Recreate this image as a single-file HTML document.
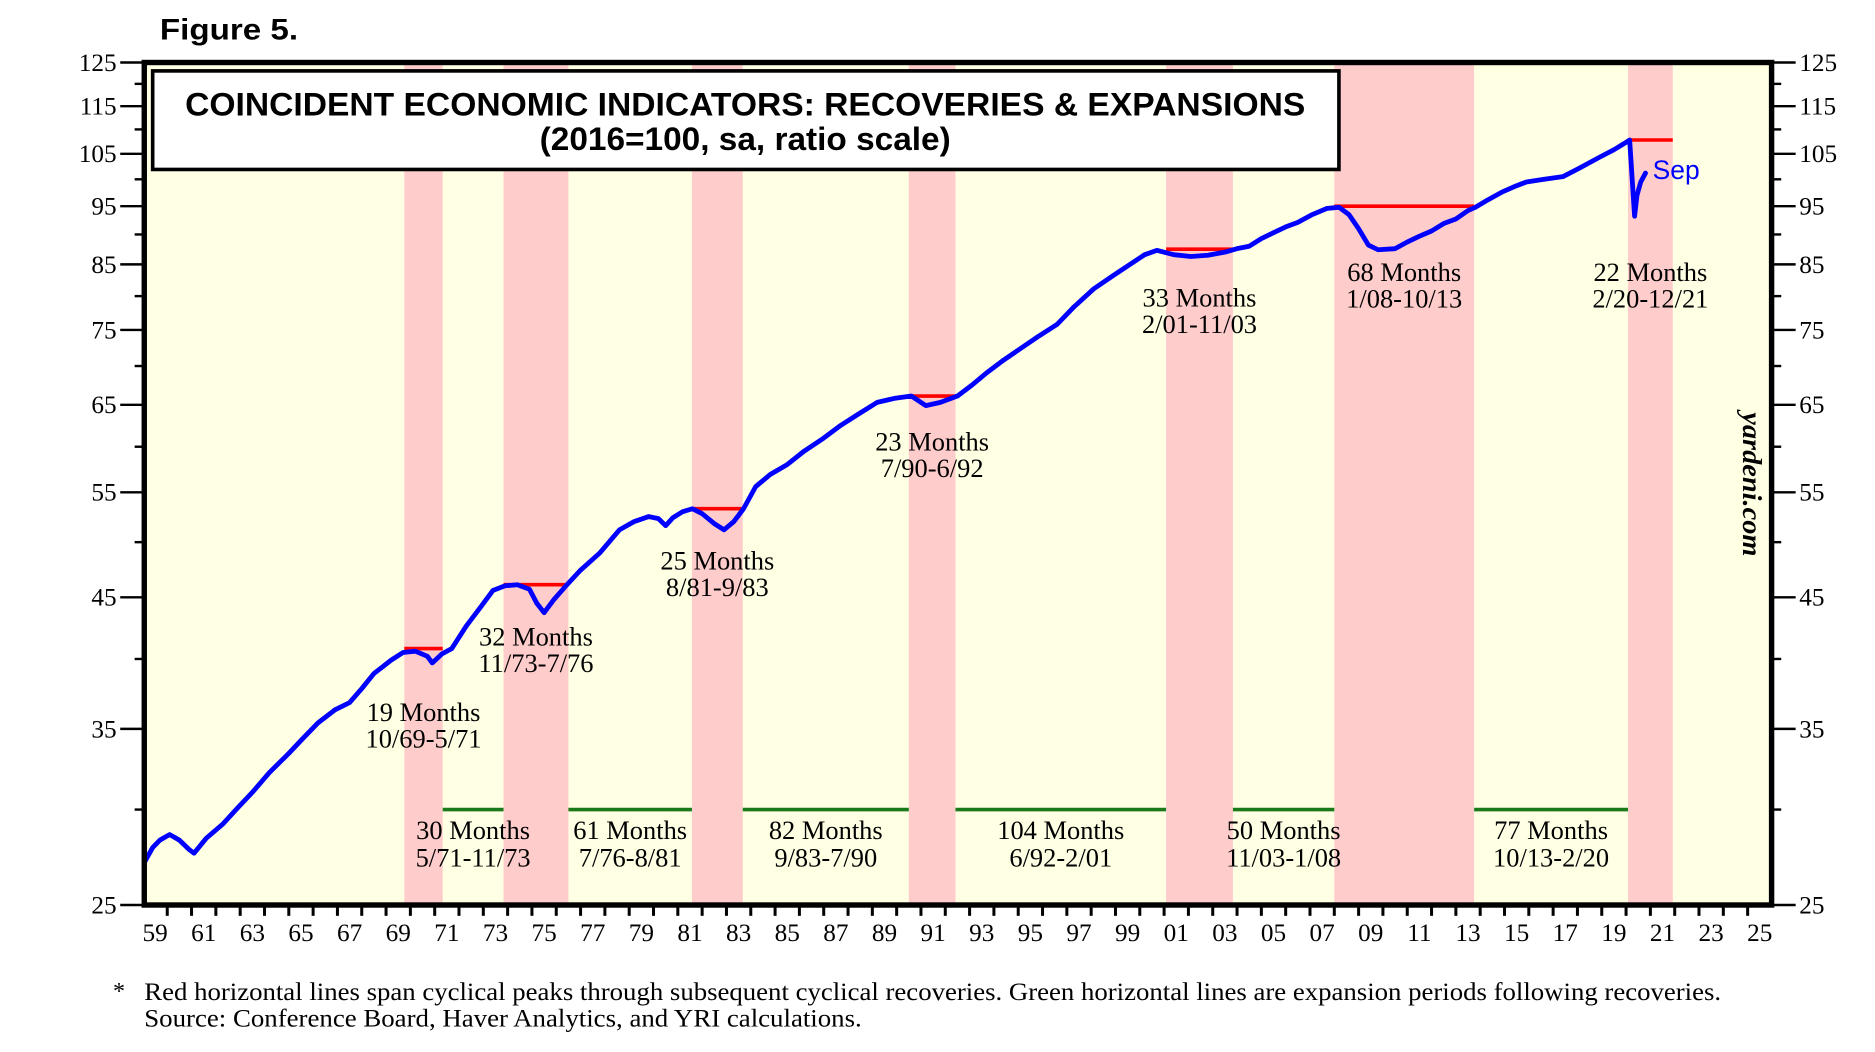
<!DOCTYPE html>
<html><head><meta charset="utf-8"><style>
html,body{margin:0;padding:0;background:#fff;}
svg{display:block;}
</style></head><body>
<svg id="chart" xmlns="http://www.w3.org/2000/svg" width="1875" height="1052" viewBox="0 0 1560 875.3">
<text x="133" y="33" font-family="Liberation Sans, sans-serif" font-weight="bold" font-size="25" textLength="115" lengthAdjust="spacingAndGlyphs">Figure 5.</text>
<rect x="120" y="52" width="1354" height="701" fill="#ffffe4"/>
<g id="bands"></g>
<g id="marks"></g>
<rect x="127" y="59" width="987" height="82" fill="#fff" stroke="#000" stroke-width="3"/>
<text x="620" y="96" text-anchor="middle" font-family="Liberation Sans, sans-serif" font-weight="bold" font-size="27" textLength="932" lengthAdjust="spacingAndGlyphs">COINCIDENT ECONOMIC INDICATORS: RECOVERIES &amp; EXPANSIONS</text>
<text x="620" y="125" text-anchor="middle" font-family="Liberation Sans, sans-serif" font-weight="bold" font-size="27" textLength="342" lengthAdjust="spacingAndGlyphs">(2016=100, sa, ratio scale)</text>
<text transform="translate(1450,403) rotate(90)" text-anchor="middle" font-family="Liberation Serif, serif" font-weight="bold" font-style="italic" font-size="23" textLength="120" lengthAdjust="spacingAndGlyphs">yardeni.com</text>
<text x="1375" y="149" fill="#0000ff" font-family="Liberation Sans, sans-serif" font-size="22">Sep</text>
<g id="axes"></g>
<rect x="120" y="52" width="1354" height="701" fill="none" stroke="#000" stroke-width="4.5"/>
<text x="94" y="831" font-family="Liberation Serif, serif" font-size="20">*</text>
<text x="120" y="832" font-family="Liberation Serif, serif" font-size="21" textLength="1312" lengthAdjust="spacingAndGlyphs">Red horizontal lines span cyclical peaks through subsequent cyclical recoveries. Green horizontal lines are expansion periods following recoveries.</text>
<text x="120" y="854" font-family="Liberation Serif, serif" font-size="21" textLength="597" lengthAdjust="spacingAndGlyphs">Source: Conference Board, Haver Analytics, and YRI calculations.</text>
</svg>
<script>
// ---- data ----
const seriesYears = [1959.05,1959.4,1959.7,1960.1,1960.5,1960.9,1961.1,1961.6,1962.3,1962.9,1963.5,1964.2,1965.0,1965.6,1966.2,1966.9,1967.5,1968.0,1968.5,1969.2,1969.7,1970.2,1970.7,1970.9,1971.3,1971.7,1972.3,1972.9,1973.4,1973.9,1974.4,1974.9,1975.2,1975.5,1975.9,1976.4,1977.0,1977.8,1978.6,1979.2,1979.8,1980.2,1980.5,1980.8,1981.2,1981.6,1982.0,1982.5,1982.9,1983.3,1983.7,1984.2,1984.8,1985.5,1986.2,1987.0,1987.7,1988.5,1989.2,1989.9,1990.6,1991.2,1991.8,1992.5,1993.1,1993.7,1994.4,1995.1,1995.8,1996.6,1997.3,1998.1,1998.9,1999.6,2000.2,2000.7,2001.4,2002.1,2002.8,2003.5,2004.0,2004.5,2005.0,2005.5,2006.0,2006.5,2007.1,2007.7,2008.2,2008.6,2009.0,2009.4,2009.8,2010.5,2011.0,2011.5,2012.0,2012.5,2013.0,2013.5,2013.8,2014.3,2014.9,2015.4,2015.9,2016.6,2017.4,2018.1,2018.9,2019.5,2019.9,2020.15,2020.25,2020.35,2020.45,2020.6,2020.8];
const seriesValues = [27.1,27.9,28.3,28.6,28.3,27.8,27.6,28.4,29.2,30.1,31.0,32.2,33.4,34.4,35.4,36.3,36.8,37.8,38.9,39.9,40.5,40.6,40.2,39.7,40.4,40.8,42.6,44.2,45.6,46.0,46.1,45.7,44.5,43.7,44.8,46.0,47.4,49.0,51.2,52.0,52.5,52.3,51.6,52.4,53.0,53.3,52.8,51.8,51.2,52.0,53.3,55.6,56.9,58.0,59.5,61.0,62.5,64.0,65.3,65.8,66.1,64.9,65.3,66.1,67.5,69.1,70.8,72.4,74.0,75.8,78.4,81.1,83.2,85.0,86.6,87.3,86.6,86.3,86.5,87.0,87.6,88.0,89.3,90.3,91.3,92.1,93.5,94.6,94.8,93.5,91.0,88.2,87.4,87.6,88.7,89.7,90.6,91.9,92.7,94.2,94.8,96.1,97.6,98.6,99.5,100.0,100.5,102.2,104.3,105.8,107.0,107.8,100.0,93.2,97.0,99.5,101.2];
const recoveryStarts = [1969.75,1973.83,1981.58,1990.5,2001.08,2008.0,2020.08];
const recoveryEnds = [1971.33,1976.5,1983.67,1992.42,2003.83,2013.75,2021.92];
const recoveryPeaks = [40.8,46.1,53.3,66.1,87.5,95.0,107.8];
const recoveryMonths = ["19 Months","32 Months","25 Months","23 Months","33 Months","68 Months","22 Months"];
const recoveryDates = ["10/69-5/71","11/73-7/76","8/81-9/83","7/90-6/92","2/01-11/03","1/08-10/13","2/20-12/21"];
const recoveryLabelY = [593,530,467,368,248,227,227];
const expansionStarts = [1971.33,1976.5,1983.67,1992.42,2003.83,2013.75];
const expansionEnds = [1973.83,1981.58,1990.5,2001.08,2008.0,2020.08];
const expansionLevel = [30,30,30,30,30,30];
const expansionMonths = ["30 Months","61 Months","82 Months","104 Months","50 Months","77 Months"];
const expansionDates = ["5/71-11/73","7/76-8/81","9/83-7/90","6/92-2/01","11/03-1/08","10/13-2/20"];
const yTickLabels = [125,115,105,95,85,75,65,55,45,35,25];
const yMinorTicks = [120,110,100,90,80,70,60,50,40,30];
const xTickLabels = ["59","61","63","65","67","69","71","73","75","77","79","81","83","85","87","89","91","93","95","97","99","01","03","05","07","09","11","13","15","17","19","21","23","25"];

// ---- scales ----
const X = t => 129 + (t - 1959.5) * 20.23;
const Y = v => 52 + Math.log(125 / v) / Math.log(5) * 701;
const NS = "http://www.w3.org/2000/svg";
function mk(tag, attrs, parent){const e=document.createElementNS(NS,tag);for(const k in attrs)e.setAttribute(k,attrs[k]);parent.appendChild(e);return e;}
const bands=document.getElementById('bands'), marks=document.getElementById('marks'), axes=document.getElementById('axes');
const SERIF="Liberation Serif, serif";

recoveryStarts.forEach((s,i)=>{
  const r=mk('rect',{x:X(s),y:52,width:X(recoveryEnds[i])-X(s),height:701,fill:'#ffcccc'},bands);
  
  
  const l=mk('line',{x1:X(s),x2:X(recoveryEnds[i]),y1:Y(recoveryPeaks[i]),y2:Y(recoveryPeaks[i]),stroke:'#ff0000','stroke-width':3},marks);
  
  
  const cx=(X(s)+X(recoveryEnds[i]))/2;
  const t=mk('text',{x:cx,y:recoveryLabelY[i]+7,'text-anchor':'middle','font-family':SERIF,'font-size':22},marks);
  t.textContent=recoveryMonths[i];
  
  
  const t2=mk('text',{x:cx,y:recoveryLabelY[i]+29,'text-anchor':'middle','font-family':SERIF,'font-size':22},marks);
  t2.textContent=recoveryDates[i];
  
  
});
expansionStarts.forEach((s,i)=>{
  const l=mk('line',{x1:X(s),x2:X(expansionEnds[i]),y1:Y(expansionLevel[i]),y2:Y(expansionLevel[i]),stroke:'#1a7a1a','stroke-width':3},marks);
  
  
  const cx=(X(s)+X(expansionEnds[i]))/2;
  const t=mk('text',{x:cx,y:698,'text-anchor':'middle','font-family':SERIF,'font-size':22},marks);
  t.textContent=expansionMonths[i];
  
  
  const t2=mk('text',{x:cx,y:721,'text-anchor':'middle','font-family':SERIF,'font-size':22},marks);
  t2.textContent=expansionDates[i];
  
  
});
const pts=seriesYears.map((t,i)=>X(t).toFixed(1)+','+Y(seriesValues[i]).toFixed(1)).join(' ');
const pl=mk('polyline',{points:pts,fill:'none',stroke:'#0000ff','stroke-width':4,'stroke-linejoin':'round','stroke-linecap':'round'},marks);



yTickLabels.forEach(v=>{
  const y=Y(v);
  mk('line',{x1:100,x2:120,y1:y,y2:y,stroke:'#000','stroke-width':2},axes);
  mk('line',{x1:1474,x2:1494,y1:y,y2:y,stroke:'#000','stroke-width':2},axes);
  const a=mk('text',{x:97,y:y+7,'text-anchor':'end','font-family':SERIF,'font-size':21},axes);
  a.textContent=v;
  
  
  const b=mk('text',{x:1497,y:y+7,'font-family':SERIF,'font-size':21},axes);
  b.textContent=v;
  
  
});
yMinorTicks.forEach(v=>{
  const y=Y(v);
  mk('line',{x1:112,x2:120,y1:y,y2:y,stroke:'#000','stroke-width':2},axes);
  mk('line',{x1:1474,x2:1482,y1:y,y2:y,stroke:'#000','stroke-width':2},axes);
});
for(let yr=1959;yr<=2026;yr++){
  const x=X(yr);
  if(x<120||x>1474)continue;
  mk('line',{x1:x,x2:x,y1:753,y2:762,stroke:'#000','stroke-width':2.5},axes);
}
xTickLabels.forEach((lab,i)=>{
  const t=mk('text',{x:X(1959.5+2*i),y:783,'text-anchor':'middle','font-family':SERIF,'font-size':21},axes);
  t.textContent=lab;
  
  
});
</script>
</body></html>
